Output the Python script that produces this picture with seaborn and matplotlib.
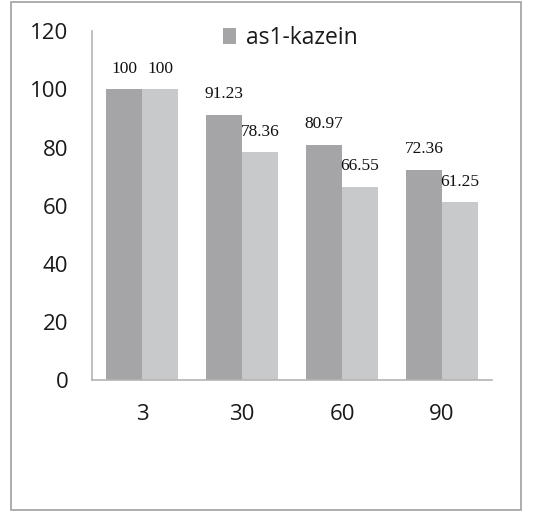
import matplotlib
matplotlib.use("Agg")
import matplotlib.pyplot as plt
from matplotlib.patches import Rectangle, Patch
import seaborn as sns
import pandas as pd

days = ["3", "30", "60", "90"]
series_a = [100, 91.23, 80.97, 72.36]
series_b = [100, 78.36, 66.55, 61.25]
series_names = ["as1-kazein", "series 2"]
yticks = [0, 20, 40, 60, 80, 100, 120]

df = pd.DataFrame({
    "day": days * 2,
    "value": series_a + series_b,
    "series": [series_names[0]] * 4 + [series_names[1]] * 4,
})

sns.set_theme(style="white")
plt.rcParams["font.family"] = ["Open Sans", "DejaVu Sans"]

fig = plt.figure(figsize=(5.33, 5.12), dpi=100)
ax = fig.add_axes([0.1726, 0.2578, 0.7505, 0.6809])

dark, light = "#a5a5a8", "#c8c9cb"
sns.barplot(data=df, x="day", y="value", hue="series", order=days,
            hue_order=series_names, palette=[dark, light],
            width=0.72, dodge=True, ax=ax, legend=False,
            saturation=1, linewidth=0)

ax.set_ylim(0, 120)
ax.set_xlim(-0.5, 3.5)
ax.set_yticks(yticks)
ax.set_yticklabels([str(t) for t in yticks], fontsize=16, color="#1a1a1a")
ax.tick_params(axis="y", length=0, pad=17)
ax.tick_params(axis="x", length=0, pad=17, labelsize=16, labelcolor="#1a1a1a")
ax.set_xlabel("")
ax.set_ylabel("")
for side in ["top", "right"]:
    ax.spines[side].set_visible(False)
for side in ["left", "bottom"]:
    ax.spines[side].set_color("#b4b4b4")
    ax.spines[side].set_linewidth(1.2)

# value labels above each bar
for container, vals in zip(ax.containers, [series_a, series_b]):
    for bar, v in zip(container, vals):
        txt = f"{v:g}" if v == int(v) else f"{v:.2f}"
        ax.annotate(txt, (bar.get_x() + bar.get_width() / 2, bar.get_height()),
                    xytext=(0, 9), textcoords="offset points",
                    ha="center", va="bottom", fontsize=12.5,
                    family=["Liberation Serif"], color="#111111")

ax.legend(handles=[Patch(facecolor=dark, edgecolor="none", label=series_names[0])],
          loc="upper center", bbox_to_anchor=(0.495, 1.075), frameon=False,
          fontsize=16.5, handlelength=0.6, handleheight=0.7, handletextpad=0.4,
          labelcolor="#1a1a1a")

fig.patches.append(Rectangle((11 / 533, 2 / 512), 510 / 533, 508 / 512,
                             transform=fig.transFigure, fill=False,
                             edgecolor="#a0a0a0", linewidth=1.2))

fig.savefig("out.png", dpi=100, facecolor="white")
